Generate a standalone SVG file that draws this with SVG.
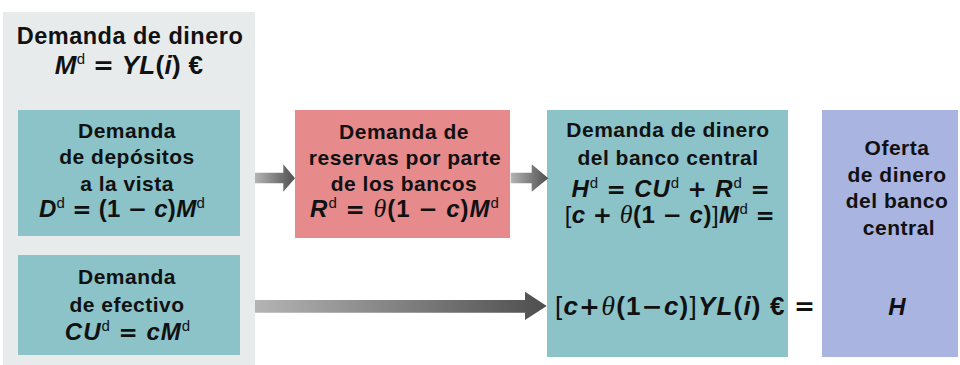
<svg xmlns="http://www.w3.org/2000/svg" width="960" height="365" viewBox="0 0 960 365">
<style>
.t{font-family:"Liberation Sans",Arial,sans-serif;font-weight:bold;font-size:21px;letter-spacing:0.5px;text-anchor:middle;fill:#111}
.ttl{font-size:23.5px}
.eq{font-size:24px;letter-spacing:0.3px}
.teq{font-size:26px;letter-spacing:0.3px}
.i{font-style:italic}
.s{font-size:15px;font-weight:normal;font-style:normal}
.op{font-family:"DejaVu Sans","Liberation Sans",sans-serif;font-weight:bold;font-size:23px;font-style:normal}
.th{font-family:"Liberation Serif","Times New Roman",serif;font-style:italic;font-weight:normal;font-size:26px}
.br{font-weight:normal}
.teal{fill:#8bc3c8}
.red{fill:#e68a8c}
.blue{fill:#aab4e1}
.arr{stroke:none}
</style>
<defs>
<linearGradient id="g1" x1="0" y1="0" x2="1" y2="0">
<stop offset="0" stop-color="#b4b4b4"/>
<stop offset="1" stop-color="#4e4e4e"/>
</linearGradient>
</defs>
<rect x="0" y="0" width="960" height="365" fill="#ffffff"/>
<g id="panel">
<rect x="3" y="12" width="252" height="353" fill="#e7ebeb"/>
<text class="t ttl" x="130" y="44.3">Demanda de dinero</text>
<text class="t teq" x="129" y="74"><tspan class="i">M</tspan><tspan class="s" dy="-10">d</tspan><tspan dy="10"> </tspan><tspan class="op" style="font-size:25px">=</tspan> <tspan class="i">YL</tspan>(<tspan class="i">i</tspan>) €</text>
</g>
<g id="depositos">
<rect class="teal" x="18" y="110" width="222" height="126"/>
<text class="t" x="127" y="137.7">Demanda</text>
<text class="t" x="127" y="164">de depósitos</text>
<text class="t" x="127" y="190.7">a la vista</text>
<text class="t eq" x="122" y="216.7"><tspan class="i">D</tspan><tspan class="s" dy="-9">d</tspan><tspan dy="9"> </tspan><tspan class="op">=</tspan> (1 <tspan class="op">−</tspan> <tspan class="i">c</tspan>)<tspan class="i">M</tspan><tspan class="s" dy="-9">d</tspan></text>
</g>
<g id="efectivo">
<rect class="teal" x="18" y="255" width="222" height="100"/>
<text class="t" x="127" y="284.3">Demanda</text>
<text class="t" x="127" y="312.3">de efectivo</text>
<text class="t eq" x="128" y="340" style="letter-spacing:1px"><tspan class="i">CU</tspan><tspan class="s" dy="-9">d</tspan><tspan dy="9"> </tspan><tspan class="op">=</tspan> <tspan class="i">cM</tspan><tspan class="s" dy="-9">d</tspan></text>
</g>
<g id="reservas">
<rect class="red" x="295" y="110" width="215" height="128"/>
<text class="t" x="404" y="139.3">Demanda de</text>
<text class="t" x="405" y="165">reservas por parte</text>
<text class="t" x="404" y="190.7">de los bancos</text>
<text class="t eq" x="405" y="216.7" style="letter-spacing:1px"><tspan class="i">R</tspan><tspan class="s" dy="-9">d</tspan><tspan dy="9"> </tspan><tspan class="op">=</tspan> <tspan class="th">θ</tspan>(1 <tspan class="op">−</tspan> <tspan class="i">c</tspan>)<tspan class="i">M</tspan><tspan class="s" dy="-9">d</tspan></text>
</g>
<g id="demanda-bc">
<rect class="teal" x="547" y="110" width="241" height="247"/>
<text class="t" x="668" y="136.7">Demanda de dinero</text>
<text class="t" x="668" y="165">del banco central</text>
<text class="t eq" x="671" y="196.7" style="letter-spacing:0.9px"><tspan class="i">H</tspan><tspan class="s" dy="-9">d</tspan><tspan dy="9"> </tspan><tspan class="op">=</tspan> <tspan class="i">CU</tspan><tspan class="s" dy="-9">d</tspan><tspan dy="9"> </tspan><tspan class="op">+</tspan> <tspan class="i">R</tspan><tspan class="s" dy="-9">d</tspan><tspan dy="9"> </tspan><tspan class="op">=</tspan></text>
<text class="t eq" x="670" y="223.3" style="letter-spacing:0.5px"><tspan class="br">[</tspan><tspan class="i">c</tspan> <tspan class="op">+</tspan> <tspan class="th">θ</tspan>(1 <tspan class="op">−</tspan> <tspan class="i">c</tspan>)<tspan class="br">]</tspan><tspan class="i">M</tspan><tspan class="s" dy="-9">d</tspan><tspan dy="9"> </tspan><tspan class="op">=</tspan></text>
<text class="t" x="555" y="315" style="text-anchor:start;letter-spacing:1.2px;font-size:26px"><tspan class="br">[</tspan><tspan class="i">c</tspan><tspan class="op" style="font-size:25px">+</tspan><tspan class="th" style="font-size:28px">θ</tspan>(1<tspan class="op" style="font-size:25px">−</tspan><tspan class="i">c</tspan>)<tspan class="br">]</tspan><tspan class="i">YL</tspan>(<tspan class="i">i</tspan>) €</text>
<text class="t op" x="794" y="315" style="text-anchor:start;letter-spacing:0;font-size:25px">=</text>
</g>
<g id="oferta">
<rect class="blue" x="822" y="110" width="136" height="247"/>
<text class="t" x="897" y="155">Oferta</text>
<text class="t" x="897" y="181.7">de dinero</text>
<text class="t" x="897" y="208.3">del banco</text>
<text class="t" x="899" y="235">central</text>
<text class="t eq i" x="897" y="315">H</text>
</g>
<g id="connectors">
<polygon class="arr" fill="url(#g1)" points="255,172.7 283.3,172.7 283.3,164.3 295,178.3 283.3,191.7 283.3,183.3 255,183.3"/>
<polygon class="arr" fill="url(#g1)" points="510.7,172.7 531.7,172.7 531.7,164.3 548.3,178.3 531.7,191.7 531.7,183.3 510.7,183.3"/>
<polygon class="arr" fill="url(#g1)" points="255,300 525,300 525,291.7 546.7,306 525,320 525,312.7 255,312.7"/>
</g>
</svg>
